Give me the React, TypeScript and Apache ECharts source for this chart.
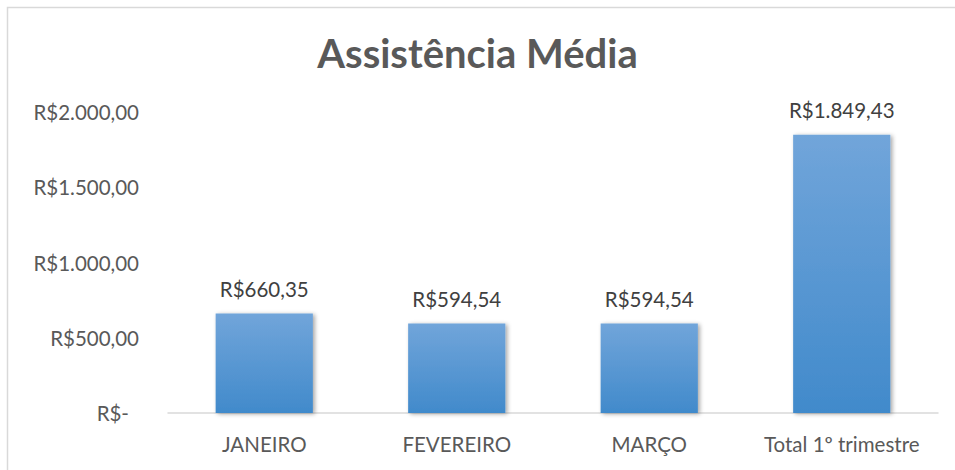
import React, { useEffect, useRef } from "react";
import * as echarts from "echarts";

const categories = ["JANEIRO", "FEVEREIRO", "MARÇO", "Total 1º trimestre"];
const values = [660.35, 594.54, 594.54, 1849.43];
const titleText = "Assistência Média";

const fmtBRL = (v: number) => {
  const fixed = v.toFixed(2);
  const [intPart, dec] = fixed.split(".");
  const withDots = intPart.replace(/\B(?=(\d{3})+(?!\d))/g, ".");
  return "R$" + withDots + "," + dec;
};

export default function App() {
  const ref = useRef<HTMLDivElement>(null);
  useEffect(() => {
    document.body.style.margin = "0";
    const chart = echarts.init(ref.current!, null, { renderer: "svg" });
    const font = "Lato, 'Open Sans', sans-serif";
    chart.setOption({
      animation: false,
      backgroundColor: "#ffffff",
      title: {
        text: titleText,
        left: "center",
        top: 28,
        textStyle: { fontFamily: font, fontSize: 40, fontWeight: "bold", color: "#595959" },
      },
      graphic: [
        {
          type: "rect",
          shape: { x: 7.5, y: 7.5, width: 1000, height: 1000 },
          style: { fill: "none", stroke: "#d9d9d9", lineWidth: 1.5 },
          silent: true,
        },
      ],
      grid: { left: 168, right: 17, top: 112, bottom: 57 },
      xAxis: {
        type: "category",
        data: categories,
        axisLine: { lineStyle: { color: "#d9d9d9", width: 1.5 } },
        axisTick: { show: false },
        axisLabel: {
          fontFamily: font,
          fontSize: 20.5,
          color: "#595959",
          margin: 20,
          interval: 0,
          hideOverlap: false,
        },
      },
      yAxis: {
        type: "value",
        min: 0,
        max: 2000,
        interval: 500,
        splitLine: { show: false },
        axisLine: { show: false },
        axisTick: { show: false },
        axisLabel: {
          fontFamily: font,
          fontSize: 20.5,
          color: "#595959",
          margin: 29,
          formatter: (v: number) => (v === 0 ? "{z|R$-}" : fmtBRL(v)),
          rich: { z: { fontFamily: font, fontSize: 20.5, color: "#595959", padding: [0, 10, 0, 0] } },
        },
      },
      series: [
        {
          type: "bar",
          data: values,
          barWidth: "50.5%",
          itemStyle: {
            color: new echarts.graphic.LinearGradient(0, 0, 0, 1, [
              { offset: 0, color: "#71a5da" },
              { offset: 1, color: "#418acb" },
            ]),
            shadowBlur: 4,
            shadowOffsetX: 2,
            shadowOffsetY: 1,
            shadowColor: "rgba(0,0,0,0.35)",
          },
          label: {
            show: true,
            position: "top",
            distance: 14,
            fontFamily: font,
            fontSize: 20.5,
            color: "#404040",
            formatter: (p: any) => fmtBRL(p.value),
          },
        },
      ],
    });
    return () => chart.dispose();
  }, []);
  return <div ref={ref} style={{ width: 955, height: 470 }} />;
}
